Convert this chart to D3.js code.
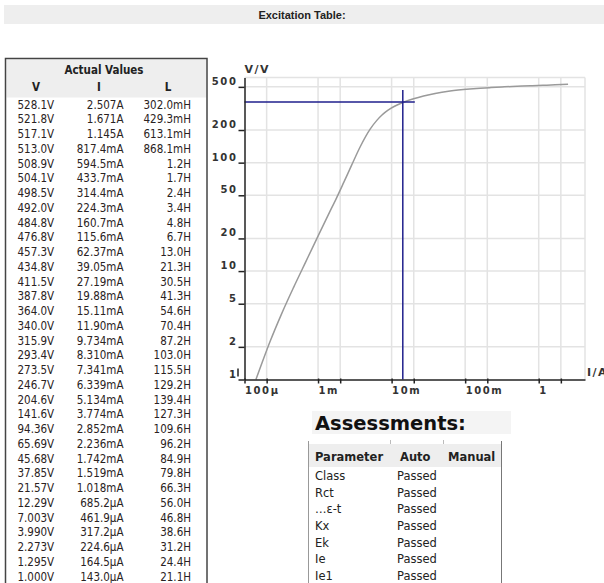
<!DOCTYPE html>
<html>
<head>
<meta charset="utf-8">
<script src="https://cdn.jsdelivr.net/npm/d3@7"></script>
<style>
    body { margin: 0; background: #fff; }
    svg { display: block; }
</style>
</head>
<body>
<script>

// table values (Actual Values)
const voltLabels = ["528.1V", "521.8V", "517.1V", "513.0V", "508.9V", "504.1V", "498.5V", "492.0V", "484.8V", "476.8V",
    "457.3V", "434.8V", "411.5V", "387.8V", "364.0V", "340.0V", "315.9V", "293.4V", "273.5V", "246.7V",
    "204.6V", "141.6V", "94.36V", "65.69V", "45.68V", "37.85V", "21.57V", "12.29V", "7.003V", "3.990V",
    "2.273V", "1.295V", "1.000V"];
const currLabels = ["2.507A", "1.671A", "1.145A", "817.4mA", "594.5mA", "433.7mA", "314.4mA", "224.3mA", "160.7mA", "115.6mA",
    "62.37mA", "39.05mA", "27.19mA", "19.88mA", "15.11mA", "11.90mA", "9.734mA", "8.310mA", "7.341mA", "6.339mA",
    "5.134mA", "3.774mA", "2.852mA", "2.236mA", "1.742mA", "1.519mA", "1.018mA", "685.2μA", "461.9μA", "317.2μA",
    "224.6μA", "164.5μA", "143.0μA"];
const indLabels = ["302.0mH", "429.3mH", "613.1mH", "868.1mH", "1.2H", "1.7H", "2.4H", "3.4H", "4.8H", "6.7H",
    "13.0H", "21.3H", "30.5H", "41.3H", "54.6H", "70.4H", "87.2H", "103.0H", "115.5H", "129.2H",
    "139.4H", "127.3H", "109.6H", "96.2H", "84.9H", "79.8H", "66.3H", "56.0H", "46.8H", "38.6H",
    "31.2H", "24.4H", "21.1H"];

// knee point
const kneeCurrent = 0.0142;
const kneeVoltage = 362;

// axes
const xDomain = [1e-4, 4.26];
const yDomain = [1, 610];
const xGridValues = [2e-4, 1e-3, 2e-3, 1e-2, 2e-2, 0.1, 0.2, 1, 2];
const xTickValues = [1e-4, 1e-3, 1e-2, 0.1, 1];
const xTickLabels = ["100μ", "1m", "10m", "100m", "1"];
const yTickValues = [1, 2, 5, 10, 20, 50, 100, 200, 500];
const yTickLabels = ["1", "2", "5", "10", "20", "50", "100", "200", "500"];

// assessments
const assessParams = ["Class", "Rct", "…ε-t", "Kx", "Ek", "Ie", "Ie1"];
const assessAuto = ["Passed", "Passed", "Passed", "Passed", "Passed", "Passed", "Passed"];
const assessManual = ["", "", "", "", "", "", ""];

let width = 604;
let height = 583;
let marginLeft = 244.5;
let marginTop = 77.5;
let chartWidth = 340.5;
let chartHeight = 302;

const prefix = { "m": 1e-3, "μ": 1e-6 };
function parseValue(s) {
    let m = s.match(/^([\d.]+)([mμ]?)[A-Z]$/);
    return +m[1] * (prefix[m[2]] || 1);
}

const points = voltLabels.map((v, i) => ({ v: parseValue(v), i: parseValue(currLabels[i]) }));

const svg = d3.select("body")
    .append("svg")
    .attr("width", width)
    .attr("height", height);

// title bar
svg.append("rect")
    .attr("x", 4).attr("y", 5)
    .attr("width", 600).attr("height", 19)
    .attr("fill", "#eeeeee");
svg.append("text")
    .attr("x", 302).attr("y", 18.5)
    .attr("text-anchor", "middle")
    .style("font", "bold 11px 'Liberation Sans', Arial, sans-serif")
    .attr("fill", "#222")
    .text("Excitation Table:");

// ---- left table
const tbl = svg.append("g");
tbl.append("rect")
    .attr("x", 6.5).attr("y", 59.5)
    .attr("width", 200).attr("height", 38)
    .attr("fill", "#eeeeee");
tbl.append("rect")
    .attr("x", 5.5).attr("y", 58.5)
    .attr("width", 201.5).attr("height", 540)
    .attr("fill", "none")
    .attr("stroke", "#444")
    .attr("stroke-width", 1.5);

const tblFont = "11.5px 'DejaVu Sans Condensed', 'Liberation Sans', sans-serif";
tbl.append("text")
    .attr("x", 104).attr("y", 74)
    .attr("text-anchor", "middle")
    .style("font", "bold " + tblFont)
    .attr("fill", "#222")
    .text("Actual Values");
[["V", 36], ["I", 99], ["L", 168]].forEach(h => {
    tbl.append("text")
        .attr("x", h[1]).attr("y", 91)
        .attr("text-anchor", "middle")
        .style("font", "bold " + tblFont)
        .attr("fill", "#222")
        .text(h[0]);
});

const rowY = d3.scaleLinear().domain([0, voltLabels.length - 1]).range([108.7, 580.7]);
const cols = [
    { labels: voltLabels, x: 17.5, anchor: "start" },
    { labels: currLabels, x: 123.5, anchor: "end" },
    { labels: indLabels, x: 191, anchor: "end" }
];
cols.forEach(c => {
    tbl.selectAll(null)
        .data(c.labels)
        .enter()
        .append("text")
        .attr("x", c.x)
        .attr("y", (d, i) => rowY(i))
        .attr("text-anchor", c.anchor)
        .style("font", tblFont)
        .attr("fill", "#2a2222")
        .text(d => d);
});

// ---- chart
let xScale = d3.scaleLog().domain(xDomain).range([0, chartWidth]);
let yScale = d3.scaleLog().domain(yDomain).range([chartHeight, 0]);

const chart = svg.append("g")
    .attr("transform", "translate(" + marginLeft + "," + marginTop + ")");

// grid
chart.selectAll(".xgrid")
    .data(xGridValues.concat([xDomain[1]]))
    .enter()
    .append("line")
    .attr("x1", d => xScale(d)).attr("x2", d => xScale(d))
    .attr("y1", 0).attr("y2", chartHeight)
    .attr("stroke", "#e3e3e3")
    .attr("stroke-width", 1.5);
chart.selectAll(".ygrid")
    .data(yTickValues.slice(1).concat([yDomain[1]]))
    .enter()
    .append("line")
    .attr("x1", 0).attr("x2", chartWidth)
    .attr("y1", d => yScale(d)).attr("y2", d => yScale(d))
    .attr("stroke", "#e3e3e3")
    .attr("stroke-width", 1.5);

// excitation curve
const line = d3.line()
    .x(d => xScale(d.i))
    .y(d => yScale(d.v))
    .curve(d3.curveMonotoneX);
chart.append("path")
    .datum(points.slice().reverse())
    .attr("d", line)
    .attr("fill", "none")
    .attr("stroke", "#9a9a9a")
    .attr("stroke-width", 1.5);

// knee point cross
const kx = xScale(kneeCurrent);
const ky = yScale(kneeVoltage);
chart.append("line")
    .attr("x1", 0).attr("x2", kx + 12)
    .attr("y1", ky).attr("y2", ky)
    .attr("stroke", "#1f1f8c")
    .attr("stroke-width", 1.5);
chart.append("line")
    .attr("x1", kx).attr("x2", kx)
    .attr("y1", ky - 12).attr("y2", chartHeight)
    .attr("stroke", "#1f1f8c")
    .attr("stroke-width", 1.5);

const tickFont = "bold 10px 'DejaVu Sans', sans-serif";

// x axis
const xAxis = chart.append("g")
    .attr("transform", "translate(0," + chartHeight + ")")
    .call(d3.axisBottom(xScale)
        .tickValues([xDomain[0]].concat(xGridValues))
        .tickSize(4)
        .tickSizeOuter(0)
        .tickFormat(d => {
            let k = xTickValues.findIndex(t => Math.abs(t - d) / t < 1e-6);
            return k < 0 ? "" : xTickLabels[k];
        }));
xAxis.select(".domain").attr("stroke", "#222").attr("stroke-width", 1.5);
xAxis.selectAll(".tick line").attr("stroke", "#222").attr("stroke-width", 1.5).attr("y1", -1);
xAxis.selectAll(".tick text")
    .attr("text-anchor", "start")
    .attr("x", 0)
    .attr("y", 14.5)
    .attr("dy", 0)
    .style("font", tickFont)
    .style("letter-spacing", "1.6px")
    .attr("fill", "#333");

// y axis
const yAxis = chart.append("g")
    .call(d3.axisLeft(yScale)
        .tickValues(yTickValues)
        .tickSize(6)
        .tickSizeOuter(0)
        .tickFormat((d, i) => yTickLabels[i]));
yAxis.select(".domain").attr("stroke", "#222").attr("stroke-width", 1.5);
yAxis.selectAll(".tick line").attr("stroke", "#222").attr("stroke-width", 1.5);
yAxis.selectAll(".tick text")
    .attr("x", -7)
    .attr("y", -2.5)
    .attr("dy", 0)
    .style("font", tickFont)
    .style("letter-spacing", "1.6px")
    .attr("fill", "#333");
chart.append("line")
    .attr("x1", -6.5).attr("x2", -6.5)
    .attr("y1", yScale(1) - 11).attr("y2", yScale(1) - 3)
    .attr("stroke", "#222")
    .attr("stroke-width", 1.5);

chart.append("text")
    .attr("x", 0).attr("y", -4.5)
    .style("font", "bold 11px 'DejaVu Sans', sans-serif")
    .style("letter-spacing", "1.5px")
    .attr("fill", "#333")
    .text("V/V");
chart.append("text")
    .attr("x", chartWidth + 2).attr("y", chartHeight - 3.5)
    .style("font", "bold 11px 'DejaVu Sans', sans-serif")
    .style("letter-spacing", "1.5px")
    .attr("fill", "#333")
    .text("I/A");

// ---- assessments
const as = svg.append("g");
as.append("rect")
    .attr("x", 312).attr("y", 411)
    .attr("width", 199).attr("height", 23)
    .attr("fill", "#f4f4f4");
as.append("text")
    .attr("x", 315).attr("y", 430)
    .style("font", "bold 19.5px 'DejaVu Sans', sans-serif")
    .attr("fill", "#111")
    .text("Assessments:");

as.append("rect")
    .attr("x", 309).attr("y", 444)
    .attr("width", 192).attr("height", 23)
    .attr("fill", "#eeeeee");
as.append("line")
    .attr("x1", 308.5).attr("x2", 308.5)
    .attr("y1", 441).attr("y2", 590)
    .attr("stroke", "#999");
as.append("line")
    .attr("x1", 501.5).attr("x2", 501.5)
    .attr("y1", 441).attr("y2", 590)
    .attr("stroke", "#777");
[390.5, 443.5].forEach(x => {
    as.append("line")
        .attr("x1", x).attr("x2", x)
        .attr("y1", 440).attr("y2", 444)
        .attr("stroke", "#bbb");
});

const asFont = "11.5px 'DejaVu Sans', sans-serif";
[["Parameter", 315], ["Auto", 400], ["Manual", 448]].forEach(h => {
    as.append("text")
        .attr("x", h[1]).attr("y", 461)
        .style("font", "bold " + asFont)
        .attr("fill", "#222")
        .text(h[0]);
});
const asRowY = d3.scaleLinear().domain([0, assessParams.length - 1]).range([480, 580]);
[[assessParams, 315], [assessAuto, 397], [assessManual, 448]].forEach(c => {
    as.selectAll(null)
        .data(c[0])
        .enter()
        .append("text")
        .attr("x", c[1])
        .attr("y", (d, i) => asRowY(i))
        .style("font", asFont)
        .attr("fill", "#222")
        .text(d => d);
});

</script>
</body>
</html>
